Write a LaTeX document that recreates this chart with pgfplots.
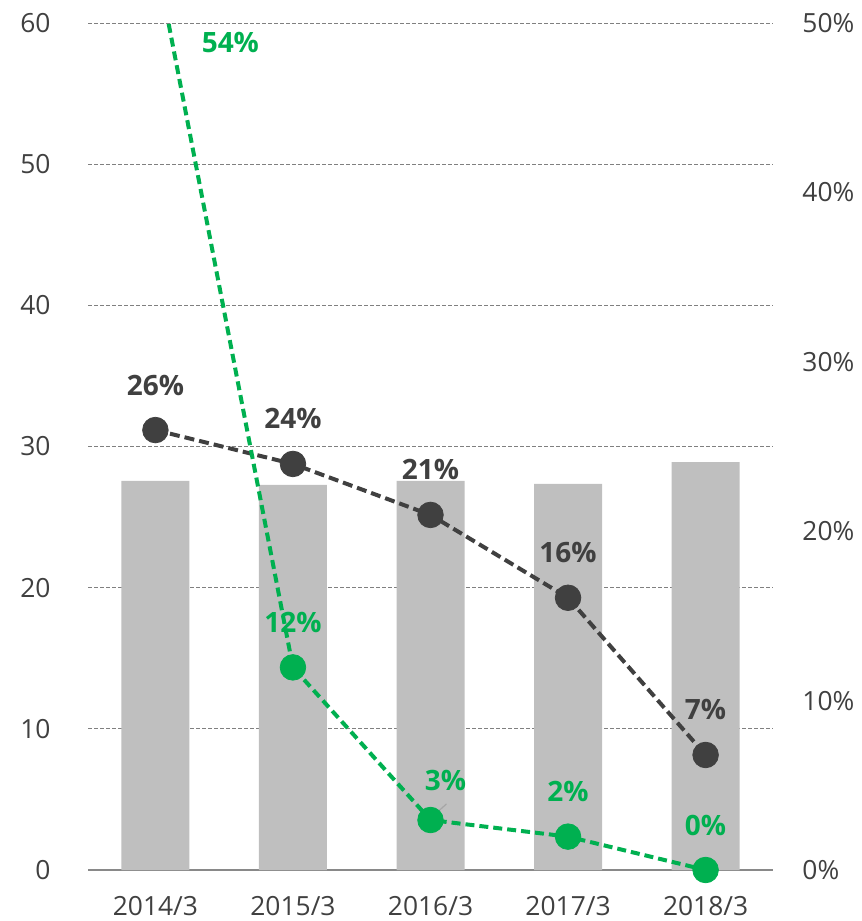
\documentclass[border=0pt]{standalone}
\usepackage{fontspec}
\setmainfont{Open Sans}
\usepackage{pgfplots}
\pgfplotsset{compat=1.18}
\definecolor{bargray}{HTML}{BFBFBF}
\definecolor{txtgray}{HTML}{404040}
\definecolor{darkl}{HTML}{404040}
\definecolor{grn}{HTML}{00B050}
\definecolor{gridc}{HTML}{808080}
\definecolor{axc}{HTML}{898989}
\definecolor{leader}{HTML}{A6A6A6}

\pgfplotstableread{
x y
0 27.57
1 27.28
2 27.57
3 27.36
4 28.89
}\bars
\pgfplotstableread{
x y
0 25.97
1 23.97
2 20.96
3 16.07
4 6.79
}\darkline
\pgfplotstableread{
x y
0 54.0
1 11.96
2 2.95
3 1.97
4 0
}\greenline
\pgfplotstableread{
x y
1 11.96
2 2.95
3 1.97
4 0
}\greenmarks

\tikzset{lab/.style={anchor=base, yshift=17.5pt, font=\fontsize{14}{16}\selectfont\bfseries}}

\begin{document}
\begin{tikzpicture}
\pgfplotsset{
  base/.style={
    scale only axis, width=342.5pt, height=423.5pt,
    xmin=-0.49, xmax=4.49, ymin=0,
    major tick length=0pt,
    tick style={draw=none},
    ticklabel style={font=\fontsize{13.2}{15}\selectfont, text=txtgray},
    /pgf/number format/assume math mode=true,
  },
}
\begin{axis}[base, ymax=60,
  ytick={0,10,...,60},
  axis x line*=bottom, axis y line*=left,
  y axis line style={draw=none},
  x axis line style={draw=axc, line width=0.75pt},
  xtick={0,...,4}, xticklabels={2014/3,2015/3,2016/3,2017/3,2018/3},
  xticklabel style={yshift=-9.5pt},
  yticklabel style={xshift=-15.2pt},
  ymajorgrids, grid style={gridc, line width=0.5pt, dash pattern=on 2pt off 1pt},
]
\addplot[ybar, bar width=34pt, fill=bargray, draw=none] table[x=x,y=y] {\bars};
\coordinate (SW) at (rel axis cs:0,0);
\coordinate (NE) at (rel axis cs:1,1);
\end{axis}
\begin{axis}[base, ymax=50,
  ytick={0,10,...,50}, yticklabels={0\%,10\%,20\%,30\%,40\%,50\%},
  axis y line*=right, y axis line style={draw=none},
  hide x axis,
  yticklabel style={xshift=11.2pt},
]
\addplot[darkl, line width=2pt, dash pattern=on 5pt off 2.5pt] table[x=x,y=y] {\darkline};
\addplot[only marks, mark=*, mark size=6.4pt, mark options={fill=darkl, draw=darkl, solid}] table[x=x,y=y] {\darkline};
\addplot[grn, line width=2pt, dash pattern=on 4.5pt off 2.5pt] table[x=x,y=y] {\greenline};
\addplot[only marks, mark=*, mark size=6.4pt, mark options={fill=grn, draw=grn, solid}] table[x=x,y=y] {\greenmarks};
\draw[leader, line width=0.6pt] (axis cs:2,3.05) -- (axis cs:2.116,3.9);
\node[lab, text=darkl] at (axis cs:0,25.97) {26\%};
\node[lab, text=darkl] at (axis cs:1,23.97) {24\%};
\node[lab, text=darkl] at (axis cs:2,20.96) {21\%};
\node[lab, text=darkl] at (axis cs:3,16.07) {16\%};
\node[lab, text=darkl] at (axis cs:4,6.79) {7\%};
\node[lab, text=grn, yshift=-17.5pt] at (axis cs:0.545,48.27) {54\%};
\node[lab, text=grn] at (axis cs:1,11.96) {12\%};
\node[lab, text=grn, yshift=-2.5pt, xshift=7.5pt] at (axis cs:2,2.95) {3\%};
\node[lab, text=grn] at (axis cs:3,1.97) {2\%};
\node[lab, text=grn] at (axis cs:4,0) {0\%};
\end{axis}
\pgfresetboundingbox
\path[use as bounding box] ([shift={(-44pt,-25.5pt)}]SW) rectangle ([shift={(44.5pt,11.5pt)}]NE);
\end{tikzpicture}
\end{document}
